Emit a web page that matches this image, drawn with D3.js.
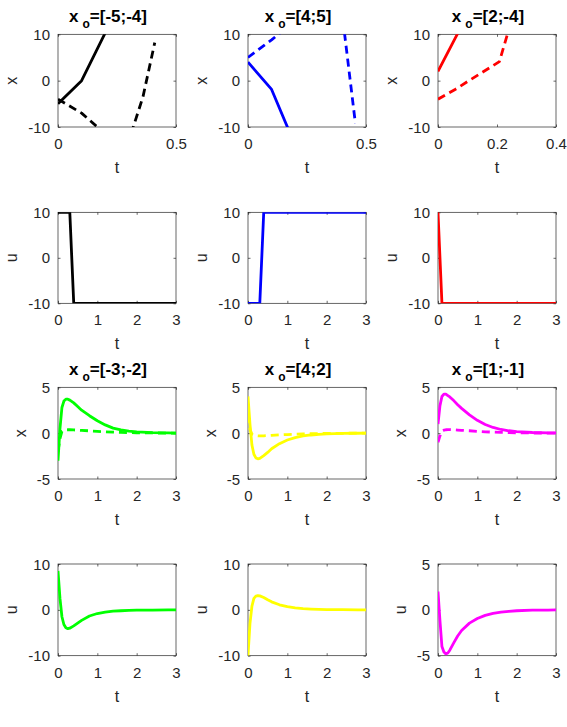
<!DOCTYPE html>
<html>
<head>
<meta charset="utf-8">
<script src="https://cdn.jsdelivr.net/npm/d3@7"></script>
<style>
  body { margin: 0; background: #fff; }
  svg { display: block; font-family: "Liberation Sans", Arial, Helvetica, sans-serif; }
  .tick text { fill: #262626; }
  .tick line { stroke: #262626; stroke-width: 0.7; }
</style>
</head>
<body>
<svg id="fig" width="567" height="727"></svg>
<script>
// six initial conditions, one colour each
var titles = ["[-5;-4]", "[4;5]", "[2;-4]", "[-3;-2]", "[4;2]", "[1;-1]"];
var colors = ["#000000", "#0000ff", "#ff0000", "#00ff00", "#ffff00", "#ff00ff"];

// first row: trajectories that leave the [-10,10] window quickly
var tA = [0, 0.1, 0.2, 0.3, 0.36, 0.41];
var x1A = [-5, 0, 10.3, 22, 32, 45];
var x2A = [-4, -7, -11.5, -13, -3.5, 8.2];
var tB = [0, 0.1, 0.2, 0.3, 0.4, 0.455];
var x1B = [4, -1.9, -14, -24, -34, -40];
var x2B = [5, 8.8, 13, 16, 14, -9.2];
var tC = [0, 0.058, 0.1, 0.208, 0.24];
var x1C = [2, 9.1, 14.3, 27.6, 31.5];
var x2C = [-4, -1.9, -0.2, 4.1, 11];

// bang-bang controls
var tuA = [0, 0.3, 0.4, 3], uA = [10, 10, -10, -10];
var tuB = [0, 0.3, 0.4, 3], uB = [-10, -10, 10, 10];
var tuC = [0, 0.1, 3], uC = [10, -10, -10];

// second row: smooth stabilised runs, common time grid
var tS = [0, 0.05, 0.1, 0.15, 0.2, 0.25, 0.3, 0.4, 0.5, 0.6, 0.8, 1.0, 1.2, 1.4, 1.6, 1.8, 2.0, 2.4, 2.8, 3.0];
var x1D = [-3, 0.5, 2.8, 3.5, 3.7, 3.7, 3.6, 3.3, 2.9, 2.5, 1.9, 1.35, 0.9, 0.55, 0.35, 0.22, 0.14, 0.06, 0.02, 0.01];
var x2D = [-2, -0.6, 0.2, 0.32, 0.36, 0.37, 0.37, 0.35, 0.33, 0.3, 0.25, 0.2, 0.15, 0.11, 0.08, 0.06, 0.04, 0.02, 0.01, 0];
var uD = [8.5, 2.5, -1.5, -3.2, -3.9, -4.1, -4.0, -3.5, -2.9, -2.3, -1.35, -0.8, -0.5, -0.3, -0.2, -0.12, -0.08, -0.04, -0.02, -0.01];
var x1E = [4, 1.0, -1.3, -2.3, -2.7, -2.8, -2.75, -2.45, -2.1, -1.7, -1.15, -0.75, -0.48, -0.3, -0.2, -0.13, -0.08, -0.03, -0.01, 0];
var x2E = [2, 0.4, -0.1, -0.22, -0.28, -0.3, -0.3, -0.29, -0.27, -0.24, -0.19, -0.15, -0.11, -0.08, -0.06, -0.04, -0.03, -0.015, -0.005, 0];
var uE = [-10, -3, 0.8, 2.5, 3.0, 3.1, 3.05, 2.7, 2.2, 1.75, 1.1, 0.7, 0.45, 0.28, 0.18, 0.11, 0.07, 0.03, 0.01, 0];
var x1F = [1, 3.0, 4.0, 4.25, 4.25, 4.1, 3.95, 3.55, 3.1, 2.7, 2.0, 1.4, 0.95, 0.62, 0.4, 0.26, 0.17, 0.07, 0.03, 0.02];
var x2F = [-1, -0.3, 0.2, 0.32, 0.37, 0.39, 0.39, 0.37, 0.34, 0.31, 0.26, 0.2, 0.15, 0.11, 0.08, 0.06, 0.04, 0.02, 0.01, 0];
var uF = [2, -1.2, -4.0, -4.6, -4.8, -4.7, -4.4, -3.6, -2.85, -2.25, -1.45, -0.95, -0.6, -0.38, -0.25, -0.16, -0.1, -0.04, -0.02, -0.01];

// axis limits and ticks
var xLimState = [[0, 0.5], [0, 0.5], [0, 0.4], [0, 3], [0, 3], [0, 3]];
var xTickState = [[0, 0.5], [0, 0.5], [0, 0.2, 0.4], [0, 1, 2, 3], [0, 1, 2, 3], [0, 1, 2, 3]];
var yLimState = [[-10, 10], [-10, 10], [-10, 10], [-5, 5], [-5, 5], [-5, 5]];
var yTickState = [[-10, 0, 10], [-10, 0, 10], [-10, 0, 10], [-5, 0, 5], [-5, 0, 5], [-5, 0, 5]];
var yLimCtrl = [[-10, 10], [-10, 10], [-10, 10], [-10, 10], [-10, 10], [-5, 5]];
var yTickCtrl = [[-10, 0, 10], [-10, 0, 10], [-10, 0, 10], [-10, 0, 10], [-10, 0, 10], [-5, 0, 5]];
var xTickCtrl = [0, 1, 2, 3];

var runs = [
  {tx: tA, x1: x1A, x2: x2A, tu: tuA, u: uA},
  {tx: tB, x1: x1B, x2: x2B, tu: tuB, u: uB},
  {tx: tC, x1: x1C, x2: x2C, tu: tuC, u: uC},
  {tx: tS, x1: x1D, x2: x2D, tu: tS, u: uD},
  {tx: tS, x1: x1E, x2: x2E, tu: tS, u: uE},
  {tx: tS, x1: x1F, x2: x2F, tu: tS, u: uF}
];

// subplot grid
var colLeft = [58, 248, 438], colRight = [176, 366, 556];
var rowTop = [34.3, 212.3, 387.3, 564], rowBottom = [127, 303.3, 479, 655.7];

var svg = d3.select("#fig");
var TICK = 2.5, FS = 15;

function panel(id, row, col, xlim, xticks, ylim, yticks, ylab, series, color, title) {
  var L = colLeft[col], R = colRight[col], T = rowTop[row], B = rowBottom[row];
  var x = d3.scaleLinear().domain(xlim).range([L, R]);
  var y = d3.scaleLinear().domain(ylim).range([B, T]);
  var g = svg.append("g");

  g.append("clipPath").attr("id", "clip" + id)
    .append("rect").attr("x", L).attr("y", T).attr("width", R - L).attr("height", B - T);

  var fmt = function (d) { return String(d); };
  var ax = g.append("g").attr("transform", "translate(0," + B + ")")
    .call(d3.axisBottom(x).tickValues(xticks).tickFormat(fmt).tickSizeInner(-TICK).tickSizeOuter(0).tickPadding(11.5));
  g.append("g").attr("transform", "translate(0," + T + ")")
    .call(d3.axisTop(x).tickValues(xticks).tickFormat("").tickSizeInner(-TICK).tickSizeOuter(0));
  var ay = g.append("g").attr("transform", "translate(" + L + ",0)")
    .call(d3.axisLeft(y).tickValues(yticks).tickFormat(fmt).tickSizeInner(-TICK).tickSizeOuter(0).tickPadding(8));
  g.append("g").attr("transform", "translate(" + R + ",0)")
    .call(d3.axisRight(y).tickValues(yticks).tickFormat("").tickSizeInner(-TICK).tickSizeOuter(0));
  g.selectAll(".domain").remove();
  g.selectAll("g").attr("font-family", null).attr("font-size", FS);
  ay.selectAll(".tick text").attr("dy", "0.34em");

  g.append("rect").attr("x", L).attr("y", T).attr("width", R - L).attr("height", B - T)
    .attr("fill", "none").attr("stroke", "#262626").attr("stroke-width", 0.7);

  var line = d3.line().x(function (d) { return x(d[0]); }).y(function (d) { return y(d[1]); });
  series.forEach(function (s) {
    g.append("path")
      .datum(d3.zip(s.t, s.v))
      .attr("clip-path", "url(#clip" + id + ")")
      .attr("d", line)
      .attr("fill", "none")
      .attr("stroke", color)
      .attr("stroke-width", 2.8)
      .attr("stroke-linejoin", "round")
      .attr("stroke-dasharray", s.dash ? "8,5" : null);
  });

  // axis labels
  g.append("text")
    .attr("x", (L + R) / 2).attr("y", B + 46)
    .attr("text-anchor", "middle").attr("font-size", 16).attr("fill", "#262626")
    .text("t");
  var maxW = 0;
  ay.selectAll(".tick text").each(function () { maxW = Math.max(maxW, this.getComputedTextLength()); });
  var lx = L - 8 - maxW - 15 + 4, ly = (T + B) / 2;
  g.append("text")
    .attr("transform", "translate(" + lx + "," + ly + ") rotate(-90)")
    .attr("text-anchor", "middle").attr("font-size", 16).attr("fill", "#262626")
    .text(ylab);

  if (title) {
    var tt = g.append("text")
      .attr("x", (L + R) / 2 - 9).attr("y", T - 12.5)
      .attr("text-anchor", "middle").attr("font-weight", "bold").attr("fill", "#000");
    tt.append("tspan").attr("font-size", 17).text("x");
    tt.append("tspan").attr("font-size", 12).attr("dx", 4).attr("dy", 6).text("o");
    tt.append("tspan").attr("font-size", 17).attr("dy", -6).text("=" + title);
  }
}

runs.forEach(function (r, i) {
  var col = i % 3, pair = i < 3 ? 0 : 1;
  panel("s" + i, pair * 2, col, xLimState[i], xTickState[i], yLimState[i], yTickState[i], "x",
    [{t: r.tx, v: r.x1, dash: false}, {t: r.tx, v: r.x2, dash: true}], colors[i], titles[i]);
  panel("u" + i, pair * 2 + 1, col, [0, 3], xTickCtrl, yLimCtrl[i], yTickCtrl[i], "u",
    [{t: r.tu, v: r.u, dash: false}], colors[i], null);
});
</script>
</body>
</html>
